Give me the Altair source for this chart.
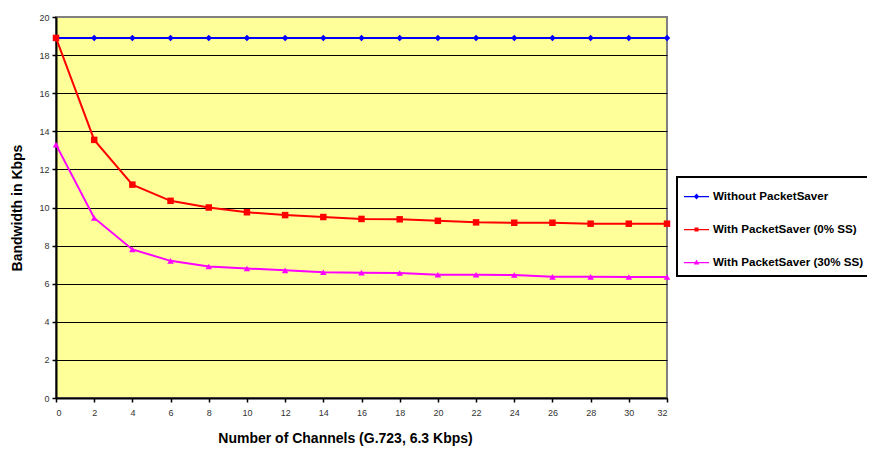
import altair as alt
import pandas as pd

channels = [0, 2, 4, 6, 8, 10, 12, 14, 16, 18, 20, 22, 24, 26, 28, 30, 32]
without_ps = [18.9] * 17
with_ps_0 = [18.9, 13.55, 11.2, 10.35, 10.0, 9.75, 9.6, 9.5, 9.4, 9.38, 9.3, 9.22, 9.2, 9.2, 9.15, 9.15, 9.15]
with_ps_30 = [13.3, 9.45, 7.8, 7.2, 6.9, 6.8, 6.7, 6.6, 6.58, 6.56, 6.47, 6.47, 6.46, 6.36, 6.36, 6.35, 6.35]

series_names = ["Without PacketSaver", "With PacketSaver (0% SS)", "With PacketSaver (30% SS)"]
series_colors = ["#0000FF", "#FF0000", "#FF00FF"]
marker_shapes = ["diamond", "square", "triangle-up"]
legend_paths = [
    "M-1,-0.05H1V0.05H-1Z M0,-0.24L0.22,0L0,0.24L-0.22,0Z",
    "M-1,-0.05H1V0.05H-1Z M-0.16,-0.16H0.16V0.16H-0.16Z",
    "M-1,-0.05H1V0.05H-1Z M0,-0.25L0.22,0.16H-0.22Z",
]

rows = []
for name, vals in zip(series_names, [without_ps, with_ps_0, with_ps_30]):
    for c, v in zip(channels, vals):
        rows.append({"x": c, "y": v, "series": name})
df = pd.DataFrame(rows)

FONT = "Liberation Sans"

x_enc = alt.X("x:Q",
              scale=alt.Scale(domain=[0, 32], nice=False, zero=False),
              axis=alt.Axis(values=channels, title="Number of Channels (G.723, 6.3 Kbps)",
                            grid=False, domainColor="black", domainWidth=2,
                            tickColor="black", tickSize=4, tickWidth=1.5,
                            labelFont=FONT, labelFontSize=9, labelColor="#333333",
                            labelPadding=6, titleFont=FONT, titleFontSize=14,
                            titleFontWeight="bold", titlePadding=14,
                            titleX=289, titleAlign="center"))
y_enc = alt.Y("y:Q",
              scale=alt.Scale(domain=[0, 20], nice=False),
              axis=alt.Axis(values=list(range(0, 21, 2)), title="Bandwidth in Kbps",
                            grid=True,
                            gridColor={"condition": {"test": "datum.value == 20", "value": "#808080"}, "value": "black"},
                            gridWidth=1,
                            domainColor="black", domainWidth=2,
                            tickColor="black", tickSize=4, tickWidth=1.5,
                            labelFont=FONT, labelFontSize=9, labelColor="#333333",
                            labelPadding=3, titleFont=FONT, titleFontSize=14,
                            titleFontWeight="bold", titlePadding=14))

color_scale = alt.Scale(domain=series_names, range=series_colors)

legend_opts = dict(title=None, orient="none", legendX=621, legendY=160,
                   strokeColor="black", padding=7,
                   symbolSize=625, symbolStrokeWidth=0, symbolOpacity=1,
                   labelFont=FONT, labelFontSize=11.6, labelFontWeight="bold",
                   labelColor="black", labelOffset=4, rowPadding=14,
                   labelLimit=300)

base = alt.Chart(df)

lines = base.mark_line(strokeWidth=2, clip=False).encode(
    x=x_enc, y=y_enc,
    color=alt.Color("series:N", scale=color_scale, legend=None),
)

points = base.mark_point(filled=True, size=42, opacity=1, clip=False).encode(
    x=x_enc, y=y_enc,
    color=alt.Color("series:N", scale=color_scale, legend=None),
    shape=alt.Shape("series:N", scale=alt.Scale(domain=series_names, range=marker_shapes), legend=None),
)

legend_layer = base.transform_filter("datum.x < -100").mark_point(filled=True).encode(
    x=x_enc, y=y_enc,
    color=alt.Color("series:N", scale=color_scale, legend=alt.Legend(**legend_opts)),
    shape=alt.Shape("series:N", scale=alt.Scale(domain=series_names, range=legend_paths),
                    legend=alt.Legend(**legend_opts)),
)

chart = alt.layer(lines, points, legend_layer).resolve_scale(
    shape="independent", color="independent"
).properties(
    width=611, height=381,
    autosize=alt.AutoSizeParams(type="none"),
    padding={"left": 48, "top": 9, "right": 200, "bottom": 50},
    background="white",
).configure_view(
    fill="#FFFF99", stroke="#808080", strokeWidth=2
).configure_legend(
    strokeWidth=2
)

chart.save("out.html", embed_options={"renderer": "svg", "actions": False})
